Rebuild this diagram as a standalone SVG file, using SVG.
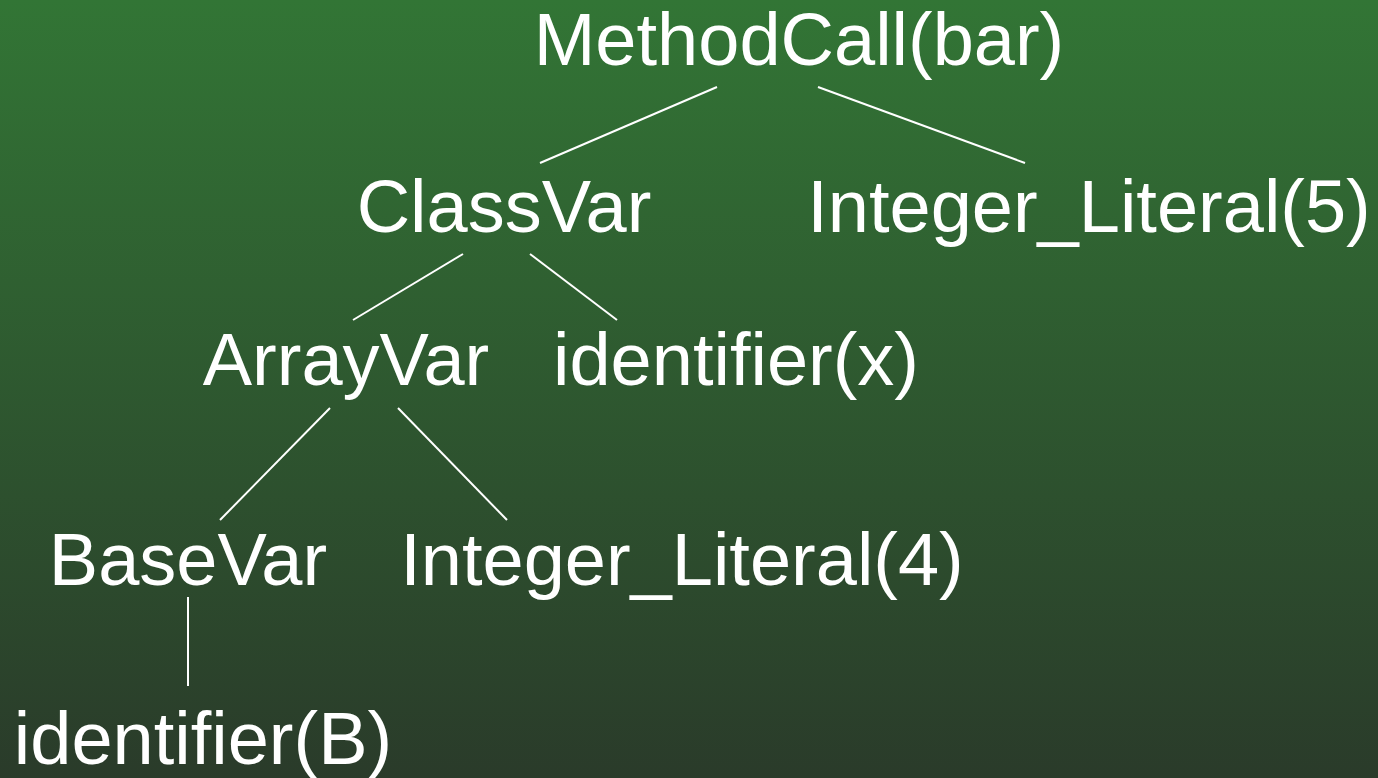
<svg xmlns="http://www.w3.org/2000/svg" width="1378" height="778" viewBox="0 0 1378 778">
  <defs>
    <linearGradient id="bg" x1="0" y1="0" x2="0" y2="1">
      <stop offset="0" stop-color="#327535"/>
      <stop offset="1" stop-color="#2a3b2a"/>
    </linearGradient>
    <style>
      .lbl { font-family: "Liberation Sans", Arial, sans-serif; font-size: 74px; fill: #ffffff; text-anchor: middle; }
      .edge { stroke: #ffffff; stroke-width: 2; fill: none; }
    </style>
  </defs>
  <rect x="0" y="0" width="1378" height="778" fill="url(#bg)"/>
  <g id="connectors">
    <line class="edge" x1="717" y1="87" x2="540" y2="163"/>
    <line class="edge" x1="818" y1="87" x2="1025" y2="163"/>
    <line class="edge" x1="463" y1="254" x2="353" y2="320"/>
    <line class="edge" x1="530" y1="254" x2="617" y2="320"/>
    <line class="edge" x1="330" y1="408" x2="220" y2="520"/>
    <line class="edge" x1="398" y1="408" x2="507" y2="520"/>
    <line class="edge" x1="188" y1="597" x2="188" y2="686"/>
  </g>
  <g id="node-methodcall"><text class="lbl" x="799" y="65">MethodCall(bar)</text></g>
  <g id="node-classvar"><text class="lbl" x="504" y="232">ClassVar</text></g>
  <g id="node-intlit5"><text class="lbl" x="1089" y="232">Integer_Literal(5)</text></g>
  <g id="node-arrayvar"><text class="lbl" x="346" y="385">ArrayVar</text></g>
  <g id="node-identx"><text class="lbl" x="736" y="385">identifier(x)</text></g>
  <g id="node-basevar"><text class="lbl" x="188" y="585">BaseVar</text></g>
  <g id="node-intlit4"><text class="lbl" x="682" y="585">Integer_Literal(4)</text></g>
  <g id="node-identb"><text class="lbl" x="203" y="764">identifier(B)</text></g>
</svg>
